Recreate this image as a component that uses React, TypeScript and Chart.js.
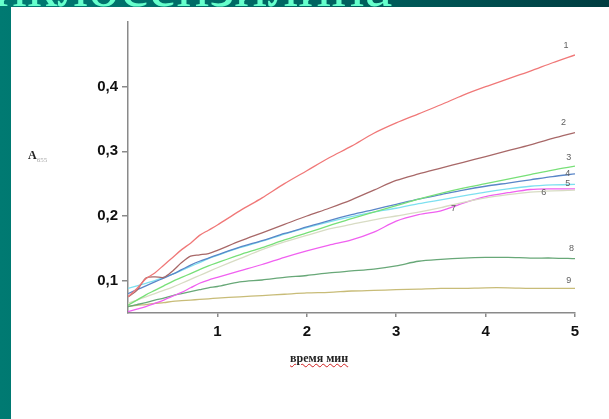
import React, { useEffect, useRef } from "react";
import { Chart, registerables } from "chart.js";

Chart.register(...registerables);

const times = [0, 0.1, 0.2, 0.3, 0.4, 0.5, 0.6, 0.7, 0.8, 0.9, 1, 1.25, 1.5, 1.75, 2, 2.25, 2.5, 2.75, 3, 3.25, 3.5, 3.75, 4, 4.25, 4.5, 4.75, 5];

const curve1 = [0.075, 0.088, 0.103, 0.112, 0.124, 0.136, 0.148, 0.158, 0.17, 0.178, 0.186, 0.208, 0.228, 0.25, 0.27, 0.29, 0.308, 0.328, 0.344, 0.358, 0.372, 0.387, 0.4, 0.412, 0.424, 0.437, 0.449];
const curve2 = [0.075, 0.085, 0.104, 0.106, 0.105, 0.115, 0.128, 0.138, 0.14, 0.142, 0.147, 0.161, 0.174, 0.187, 0.2, 0.212, 0.225, 0.24, 0.255, 0.265, 0.274, 0.283, 0.292, 0.301, 0.31, 0.32, 0.329];
const curve3 = [0.062, 0.07, 0.078, 0.085, 0.092, 0.099, 0.105, 0.111, 0.117, 0.123, 0.128, 0.14, 0.151, 0.163, 0.174, 0.185, 0.196, 0.206, 0.216, 0.226, 0.235, 0.243, 0.25, 0.257, 0.264, 0.271, 0.277];
const curve4 = [0.08, 0.086, 0.092, 0.098, 0.104, 0.11, 0.117, 0.124, 0.13, 0.135, 0.14, 0.152, 0.162, 0.173, 0.183, 0.193, 0.202, 0.21, 0.218, 0.226, 0.233, 0.24, 0.246, 0.251, 0.256, 0.261, 0.265];
const curve5 = [0.088, 0.092, 0.096, 0.1, 0.105, 0.11, 0.116, 0.122, 0.128, 0.134, 0.139, 0.151, 0.161, 0.172, 0.182, 0.191, 0.199, 0.206, 0.212, 0.219, 0.225, 0.231, 0.237, 0.242, 0.246, 0.248, 0.249];
const curve6 = [0.065, 0.07, 0.075, 0.08, 0.085, 0.09, 0.096, 0.102, 0.108, 0.114, 0.12, 0.134, 0.148, 0.16, 0.17, 0.18, 0.187, 0.194, 0.2, 0.206, 0.213, 0.221, 0.228, 0.233, 0.237, 0.239, 0.24];
const curve7 = [0.052, 0.056, 0.06, 0.065, 0.07, 0.076, 0.082, 0.089, 0.096, 0.101, 0.105, 0.115, 0.125, 0.136, 0.146, 0.155, 0.163, 0.175, 0.192, 0.202, 0.208, 0.22, 0.23, 0.236, 0.241, 0.242, 0.242];
const curve8 = [0.06, 0.063, 0.066, 0.07, 0.073, 0.077, 0.08, 0.083, 0.086, 0.089, 0.091, 0.098, 0.101, 0.105, 0.108, 0.112, 0.115, 0.118, 0.123, 0.13, 0.133, 0.135, 0.136, 0.136, 0.135, 0.135, 0.134];
const curve9 = [0.06, 0.062, 0.063, 0.065, 0.066, 0.068, 0.069, 0.07, 0.071, 0.072, 0.073, 0.075, 0.077, 0.079, 0.081, 0.082, 0.084, 0.085, 0.086, 0.087, 0.088, 0.088, 0.089, 0.089, 0.088, 0.088, 0.088];

const seriesValues = [curve1, curve2, curve3, curve4, curve5, curve6, curve7, curve8, curve9];
const seriesNames = ["1", "2", "3", "4", "5", "6", "7", "8", "9"];
const seriesColors = ["#f07878", "#a86868", "#78e078", "#5a86c8", "#7ee0f0", "#d8dcc4", "#f060f0", "#68a878", "#c8bc78"];

const labelX = [4.9, 4.87, 4.93, 4.92, 4.92, 4.65, 3.64, 4.96, 4.93];
const labelY = [0.463, 0.345, 0.29, 0.266, 0.25, 0.236, 0.212, 0.15, 0.1];

const yTicks = [0.1, 0.2, 0.3, 0.4];
const xTicks = [1, 2, 3, 4, 5];

const curveLabels = {
  id: "curveLabels",
  afterDatasetsDraw(chart: any) {
    const ctx = chart.ctx;
    const xs = chart.scales.x;
    const ys = chart.scales.y;
    ctx.save();
    ctx.font = "9px 'Liberation Sans', Arial, sans-serif";
    ctx.fillStyle = "#606060";
    ctx.textAlign = "center";
    ctx.textBaseline = "middle";
    seriesNames.forEach((n, i) => {
      ctx.fillText(n, xs.getPixelForValue(labelX[i]), ys.getPixelForValue(labelY[i]));
    });
    ctx.restore();
  },
};

export default function App() {
  const ref = useRef<HTMLCanvasElement | null>(null);
  useEffect(() => {
    if (!ref.current) return;
    const chart = new Chart(ref.current, {
      type: "line",
      data: {
        datasets: seriesValues.map((vals, i) => ({
          label: seriesNames[i],
          data: times.map((t, j) => ({ x: t, y: vals[j] })),
          borderColor: seriesColors[i],
          borderWidth: 1.3,
          pointRadius: 0,
          tension: 0.3,
          fill: false,
        })),
      },
      options: {
        animation: false,
        responsive: false,
        maintainAspectRatio: false,
        layout: { padding: { left: 0, right: 34, top: 15, bottom: 0 } },
        plugins: { legend: { display: false }, tooltip: { enabled: false } },
        scales: {
          x: {
            type: "linear",
            min: 0,
            max: 5,
            afterFit: (s: any) => { s.height = 106; },
            afterBuildTicks: (s: any) => { s.ticks = xTicks.map((v) => ({ value: v })); },
            grid: { drawOnChartArea: false, drawTicks: true, tickLength: 4, color: "#8a8a8a", lineWidth: 1.5 },
            border: { display: true, color: "#8a8a8a", width: 1.5 },
            ticks: {
              padding: 6,
              color: "#111",
              font: { family: "'Liberation Sans', Arial, sans-serif", size: 15, weight: "bold" },
              maxRotation: 0,
              callback: (v: any) => String(v),
            },
          },
          y: {
            type: "linear",
            min: 0.05,
            max: 0.5,
            afterFit: (s: any) => { s.width = 117; },
            afterBuildTicks: (s: any) => { s.ticks = yTicks.map((v) => ({ value: v })); },
            grid: { drawOnChartArea: false, drawTicks: true, tickLength: 6, color: "#8a8a8a", lineWidth: 1.5 },
            border: { display: true, color: "#8a8a8a", width: 1.5 },
            ticks: {
              padding: 4,
              color: "#111",
              font: { family: "'Liberation Sans', Arial, sans-serif", size: 15, weight: "bold" },
              callback: (v: any) => Number(v).toFixed(1).replace(".", ","),
            },
          },
        },
      },
      plugins: [curveLabels],
    });
    return () => chart.destroy();
  }, []);

  return (
    <div
      style={{
        position: "fixed",
        left: 0,
        top: 0,
        width: 609,
        height: 419,
        overflow: "hidden",
        background: "linear-gradient(90deg, #007a72 0%, #006260 55%, #003c40 100%)",
      }}
    >
      <div
        style={{
          position: "absolute",
          left: -6,
          top: -46,
          fontFamily: "'Liberation Serif', 'Times New Roman', serif",
          fontSize: 62,
          lineHeight: "62px",
          color: "#66ffcc",
          whiteSpace: "nowrap",
        }}
      >
        иклосензилина
      </div>
      <div style={{ position: "absolute", left: 11, top: 7, width: 598, height: 412, background: "#ffffff" }}>
        <canvas ref={ref} width={598} height={412} style={{ display: "block" }} />
        <div
          style={{
            position: "absolute",
            left: 17,
            top: 141,
            fontFamily: "'Liberation Serif', 'Times New Roman', serif",
            fontWeight: "bold",
            fontSize: 12,
            color: "#222",
            whiteSpace: "nowrap",
          }}
        >
          A<sub style={{ fontSize: 7, fontWeight: "normal", color: "#aaa" }}>655</sub>
        </div>
        <div
          style={{
            position: "absolute",
            left: 279,
            top: 344,
            fontFamily: "'Liberation Serif', 'Times New Roman', serif",
            fontWeight: "bold",
            fontSize: 12,
            color: "#222",
            whiteSpace: "nowrap",
            textDecoration: "underline wavy #d02020",
            textDecorationThickness: 1,
          }}
        >
          время мин
        </div>
      </div>
    </div>
  );
}
